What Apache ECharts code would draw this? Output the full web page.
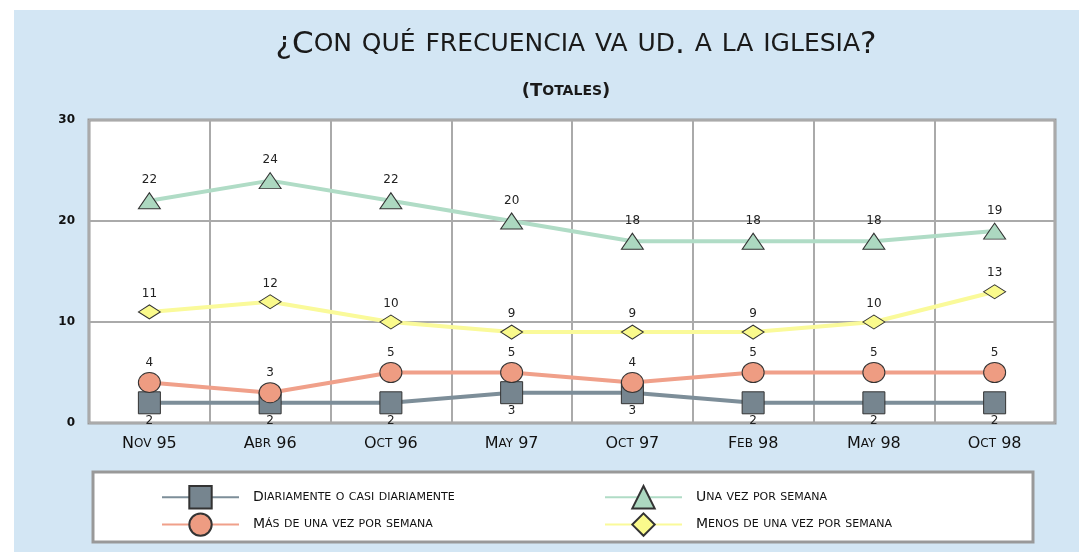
<!DOCTYPE html>
<html>
<head>
<meta charset="utf-8">
<title>¿Con qué frecuencia va ud. a la iglesia?</title>
<script src="https://cdn.jsdelivr.net/npm/echarts@6/dist/echarts.min.js"></script>
<style>
    html, body { margin: 0; padding: 0; background: #fff; }
    #chart { width: 1079px; height: 552px; }
</style>
</head>
<body>
<div id="chart"></div>
<script>
var categories = ['Nov 95', 'Abr 96', 'Oct 96', 'May 97', 'Oct 97', 'Feb 98', 'May 98', 'Oct 98'];
var yTicks = [0, 10, 20, 30];

var diariamente = [2, 2, 2, 3, 3, 2, 2, 2];
var masDeUnaVez = [4, 3, 5, 5, 4, 5, 5, 5];
var unaVez = [22, 24, 22, 20, 18, 18, 18, 19];
var menosDeUnaVez = [11, 12, 10, 9, 9, 9, 10, 13];

var names = [
    'Diariamente o casi diariamente',
    'Más de una vez por semana',
    'Una vez por semana',
    'Menos de una vez por semana'
];

var FONT = 'DejaVu Sans';

// small caps: lower case letters go upper case in the smaller style
function smallCaps(str) {
    var out = '';
    var re = /([^a-záéíóúñü]+)|([a-záéíóúñü]+)/g;
    var m;
    while ((m = re.exec(str)) !== null) {
        if (m[1]) {
            out += '{b|' + m[1] + '}';
        }
        else {
            out += '{s|' + m[2].toUpperCase() + '}';
        }
    }
    return out;
}

function richCaps(big, small, color, weight) {
    return {
        b: {fontFamily: FONT, fontSize: big, color: color, fontWeight: weight || 'normal'},
        s: {fontFamily: FONT, fontSize: small, color: color, fontWeight: weight || 'normal'}
    };
}

var chart = echarts.init(document.getElementById('chart'));

function lineSeries(name, data, color, fill, symbol, size, labelPos, labelDist) {
    return {
        name: name,
        type: 'line',
        data: data,
        symbol: symbol,
        symbolSize: size,
        showAllSymbol: true,
        lineStyle: {color: color, width: 4},
        itemStyle: {color: fill, borderColor: '#333', borderWidth: 1},
        label: {
            show: true,
            position: labelPos,
            distance: labelDist,
            fontFamily: FONT,
            fontSize: 12,
            color: '#222'
        },
        emphasis: {disabled: true},
        animation: false
    };
}

var legendText = {
    color: '#111',
    padding: [0, 0, 0, 9],
    rich: richCaps(14, 11, '#111')
};

var option = {
    backgroundColor: '#fff',
    animation: false,
    graphic: [
        {
            type: 'rect',
            z: -10,
            shape: {x: 14, y: 10, width: 1079 - 14, height: 552 - 10},
            style: {fill: '#d3e6f4'}
        },
        {
            type: 'rect',
            z: -5,
            shape: {x: 93, y: 472, width: 940, height: 70},
            style: {fill: '#fff', stroke: '#999', lineWidth: 3}
        }
    ],
    title: [
        {
            text: smallCaps('¿Con qué frecuencia va ud. a la iglesia?'),
            left: 571,
            top: 24,
            textAlign: 'center',
            textStyle: {rich: richCaps(31, 25, '#1a1a1a', 'normal')}
        },
        {
            text: smallCaps('(Totales)'),
            left: 561,
            top: 77,
            textAlign: 'center',
            textStyle: {rich: richCaps(18, 14, '#1a1a1a', 'bold')}
        }
    ],
    legend: [
        {
            orient: 'vertical',
            left: 156,
            top: 480,
            itemWidth: 77,
            itemHeight: 28,
            itemGap: 3,
            selectedMode: false,
            data: [names[0], names[1]],
            formatter: smallCaps,
            textStyle: legendText
        },
        {
            orient: 'vertical',
            left: 599,
            top: 480,
            itemWidth: 77,
            itemHeight: 28,
            itemGap: 3,
            selectedMode: false,
            data: [names[2], names[3]],
            formatter: smallCaps,
            textStyle: legendText
        }
    ],
    grid: {
        left: 89,
        right: 24,
        top: 120,
        bottom: 129,
        show: true,
        backgroundColor: '#fff',
        borderColor: '#999',
        borderWidth: 3
    },
    xAxis: {
        type: 'category',
        data: categories,
        boundaryGap: true,
        axisLine: {show: false},
        axisTick: {show: false},
        splitLine: {show: true, interval: 0, lineStyle: {color: '#aaa', width: 2}},
        axisLabel: {
            interval: 0,
            margin: 13,
            formatter: smallCaps,
            rich: richCaps(16, 12, '#111')
        }
    },
    yAxis: {
        type: 'value',
        min: yTicks[0],
        max: yTicks[yTicks.length - 1],
        interval: 10,
        axisLine: {show: false},
        axisTick: {show: false},
        splitLine: {lineStyle: {color: '#aaa', width: 2}},
        axisLabel: {
            margin: 14,
            padding: [6, 0, 0, 0],
            fontFamily: FONT,
            fontSize: 12,
            fontWeight: 'bold',
            color: '#111'
        }
    },
    series: [
        lineSeries(names[0], diariamente, '#7d8e99', '#76858f', 'rect', 22, 'bottom', 1),
        lineSeries(names[1], masDeUnaVez, '#f0a08a', '#ee9c82', 'circle', [22, 20], 'top', 3),
        lineSeries(names[2], unaVez, '#b0dcc6', '#acd8c0', 'triangle', [22, 16], 'top', 6),
        lineSeries(names[3], menosDeUnaVez, '#fafa9a', '#fafa8c', 'diamond', [22, 14], 'top', 5)
    ]
};

chart.setOption(option);
</script>
</body>
</html>
